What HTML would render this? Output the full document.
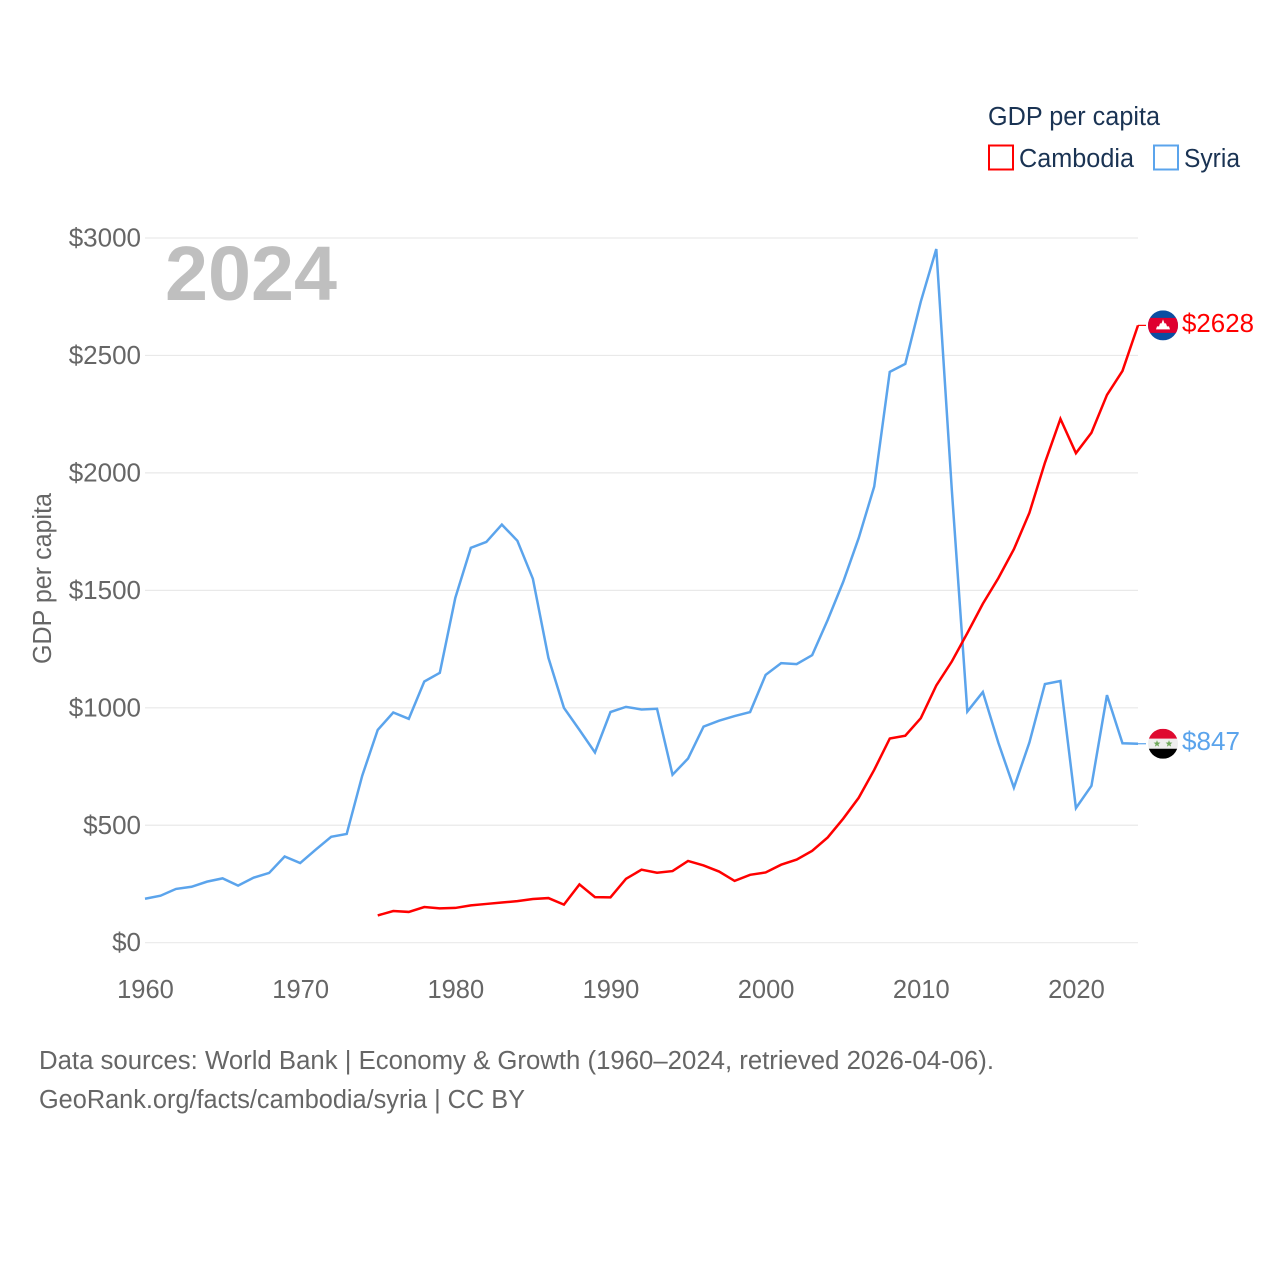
<!DOCTYPE html>
<html lang="en">
<head>
<meta charset="utf-8">
<title>GDP per capita: Cambodia and Syria</title>
<style>
html,body{margin:0;padding:0;background:#fff;width:1280px;height:1280px;overflow:hidden}
svg{display:block}
text{font-family:"Liberation Sans",sans-serif;font-size:25.5px;fill:#666}
.legend{fill:#1a3353}
</style>
</head>
<body>
<svg id="chart" xmlns="http://www.w3.org/2000/svg" width="1280" height="1280" viewBox="0 0 1280 1280">
  <rect width="1280" height="1280" fill="#fff"/>
  <g id="grid"></g>
  <g id="yticks"></g>
  <g id="xticks"></g>
  <text x="165" y="300" style="font-size:77px;font-weight:700;fill:#bfbfbf" textLength="172" lengthAdjust="spacingAndGlyphs">2024</text>
  <text transform="translate(51,664) rotate(-90)" textLength="171" lengthAdjust="spacingAndGlyphs">GDP per capita</text>
  <g id="series"></g>
  <g id="cambodia-flag"></g>
  <g id="syria-flag"></g>
  <g>
    <text class="legend" x="988" y="125" textLength="172" lengthAdjust="spacingAndGlyphs">GDP per capita</text>
    <rect x="989" y="145.5" width="24" height="24" fill="#fff" stroke="#ff0000" stroke-width="2"/>
    <text class="legend" x="1019" y="167" textLength="115" lengthAdjust="spacingAndGlyphs">Cambodia</text>
    <rect x="1154" y="145.5" width="24" height="24" fill="#fff" stroke="#5ba4ec" stroke-width="2"/>
    <text class="legend" x="1184" y="167" textLength="56" lengthAdjust="spacingAndGlyphs">Syria</text>
  </g>
  <text x="39" y="1069" textLength="955" lengthAdjust="spacingAndGlyphs">Data sources: World Bank | Economy &amp; Growth (1960–2024, retrieved 2026-04-06).</text>
  <text x="39" y="1108" textLength="486" lengthAdjust="spacingAndGlyphs">GeoRank.org/facts/cambodia/syria | CC BY</text>
</svg>
<script>
const yTickValues = [0, 500, 1000, 1500, 2000, 2500, 3000];
const xTickYears = [1960, 1970, 1980, 1990, 2000, 2010, 2020];
const syriaStartYear = 1960;
const syriaValues = [187,200,229,238,260,274,243,277,297,367,339,396,451,463,711,906,980,953,1112,1149,1468,1681,1706,1780,1711,1549,1213,1000,906,810,982,1004,993,996,715,784,920,945,965,982,1140,1190,1186,1224,1374,1536,1723,1942,2430,2464,2729,2953,1928,984,1067,851,660,852,1101,1114,573,668,1054,849,847];
const cambodiaStartYear = 1975;
const cambodiaValues = [116,135,131,152,146,148,159,165,171,177,186,190,162,248,194,193,272,311,298,305,348,329,303,263,289,299,332,354,391,448,528,617,736,869,881,956,1095,1197,1318,1443,1552,1675,1830,2043,2230,2084,2171,2332,2434,2628];

const NS = 'http://www.w3.org/2000/svg';
const xScale = function (year) { return 145 + (year - 1960) * (1138 - 145) / 64; };
const yScale = function (value) { return 942.7 - value * (942.7 - 238) / 3000; };

function make(tag, parentId, attrs, text) {
  const el = document.createElementNS(NS, tag);
  Object.keys(attrs).forEach(function (k) { el.setAttribute(k, attrs[k]); });
  if (text !== undefined) { el.textContent = text; }
  document.getElementById(parentId).appendChild(el);
  return el;
}

yTickValues.forEach(function (v) {
  const line = make('line', 'grid', { x1: 145, x2: 1138, y1: yScale(v), y2: yScale(v), stroke: '#e9e9e9', 'stroke-width': 1.2 });
  
  
  const label = make('text', 'yticks', { x: 141, y: yScale(v) + 8.5, 'text-anchor': 'end', style: 'font-size:26px' }, '$' + v);
  
  
});

xTickYears.forEach(function (year) {
  const label = make('text', 'xticks', { x: xScale(year) + 0.5, y: 998, 'text-anchor': 'middle' }, String(year));
  
  
});

function drawSeries(name, color, startYear, values) {
  const pts = values.map(function (v, i) {
    return xScale(startYear + i).toFixed(2) + ',' + yScale(v).toFixed(2);
  }).join(' ');
  const line = make('polyline', 'series', { points: pts, fill: 'none', stroke: color, 'stroke-width': 2.5, 'stroke-linejoin': 'miter' });
  
  
  const last = values[values.length - 1];
  const lastY = yScale(last);
  const lastYear = startYear + values.length - 1;
  const connector = make('line', 'series', { x1: xScale(lastYear), x2: 1146, y1: lastY, y2: lastY, stroke: color, 'stroke-width': 1.2 });
  
  
  const label = make('text', 'series', { x: 1182, y: lastY + 6.5, style: 'fill:' + color }, '$' + last);
  
  
  label.setAttribute('textLength', last >= 1000 ? '72' : '58');
  label.setAttribute('lengthAdjust', 'spacingAndGlyphs');
  return lastY;
}

const syriaY = drawSeries('syria', '#5ba4ec', syriaStartYear, syriaValues);
const cambodiaY = drawSeries('cambodia', '#ff0000', cambodiaStartYear, cambodiaValues);

const defs = document.createElementNS(NS, 'defs');
document.getElementById('chart').appendChild(defs);
[['clip-cambodia', cambodiaY], ['clip-syria', syriaY]].forEach(function (c) {
  const clip = document.createElementNS(NS, 'clipPath');
  clip.setAttribute('id', c[0]);
  const circle = document.createElementNS(NS, 'circle');
  circle.setAttribute('cx', 1163);
  circle.setAttribute('cy', c[1]);
  circle.setAttribute('r', 15);
  clip.appendChild(circle);
  defs.appendChild(clip);
});

document.getElementById('cambodia-flag').setAttribute('clip-path', 'url(#clip-cambodia)');
document.getElementById('syria-flag').setAttribute('clip-path', 'url(#clip-syria)');

make('rect', 'cambodia-flag', { x: 1148, y: cambodiaY - 15, width: 30, height: 30, fill: '#0b4ea2' });
make('rect', 'cambodia-flag', { x: 1148, y: cambodiaY - 7.5, width: 30, height: 15, fill: '#df0030' });
make('polygon', 'cambodia-flag', { points: [1156, cambodiaY + 4, 1157, cambodiaY + 1, 1159, cambodiaY + 1, 1160, cambodiaY - 2, 1161.5, cambodiaY - 2, 1163, cambodiaY - 6, 1164.5, cambodiaY - 2, 1166, cambodiaY - 2, 1167, cambodiaY + 1, 1169, cambodiaY + 1, 1170, cambodiaY + 4].join(' '), fill: '#ffffff' });

make('rect', 'syria-flag', { x: 1148, y: syriaY - 15, width: 30, height: 10, fill: '#df0a30' });
make('rect', 'syria-flag', { x: 1148, y: syriaY - 5, width: 30, height: 10, fill: '#eeeeee' });
make('rect', 'syria-flag', { x: 1148, y: syriaY + 5, width: 30, height: 10, fill: '#000000' });
[1157, 1169].forEach(function (cx) {
  const r = 3.6, s = 1.5;
  const p = [];
  for (let i = 0; i < 10; i++) {
    const a = -Math.PI / 2 + i * Math.PI / 5;
    const d = i % 2 ? s : r;
    p.push((cx + d * Math.cos(a)).toFixed(2) + ',' + (syriaY + d * Math.sin(a)).toFixed(2));
  }
  make('polygon', 'syria-flag', { points: p.join(' '), fill: '#6fa85a' });
});
</script>
</body>
</html>
